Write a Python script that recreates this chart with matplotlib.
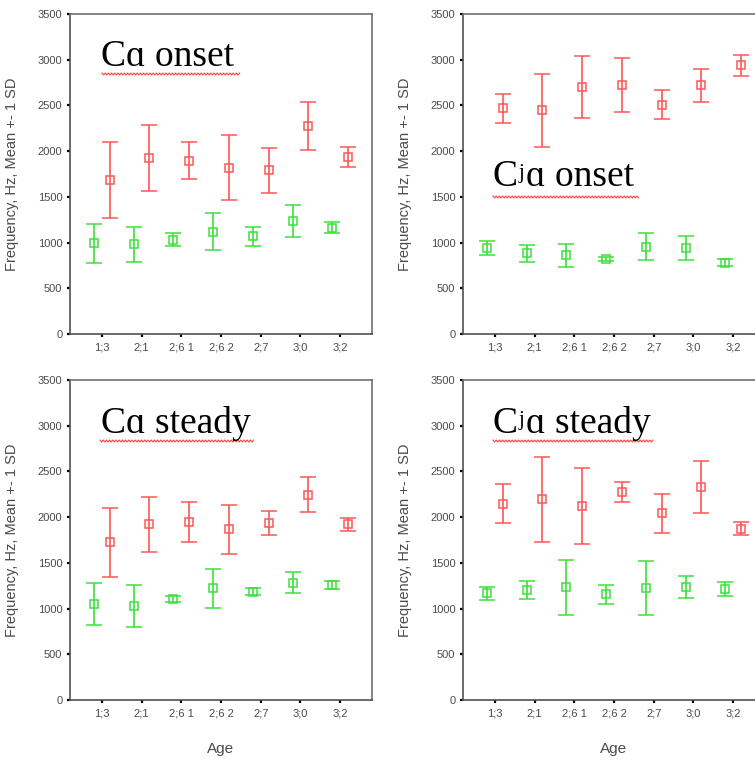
import numpy as np
import matplotlib
matplotlib.use("Agg")
import matplotlib.pyplot as plt
from matplotlib.lines import Line2D

ages = ["1;3", "2;1", "2;6 1", "2;6 2", "2;7", "3;0", "3;2"]

# Cɑ onset
ca_onset_green_mean = [990, 980, 1030, 1120, 1070, 1235, 1160]
ca_onset_green_sd = [210, 190, 70, 200, 105, 175, 60]
ca_onset_red_mean = [1680, 1925, 1895, 1820, 1790, 2275, 1940]
ca_onset_red_sd = [415, 360, 205, 355, 245, 260, 110]

# Cʲɑ onset
cja_onset_green_mean = [940, 885, 860, 815, 955, 940, 780]
cja_onset_green_sd = [73, 93, 122, 22, 150, 135, 35]
cja_onset_red_mean = [2470, 2445, 2700, 2720, 2510, 2720, 2940]
cja_onset_red_sd = [160, 395, 340, 295, 160, 180, 117]

# Cɑ steady
ca_steady_green_mean = [1050, 1030, 1100, 1220, 1185, 1285, 1255]
ca_steady_green_sd = [232, 232, 33, 215, 40, 115, 45]
ca_steady_red_mean = [1725, 1920, 1945, 1865, 1935, 2245, 1920]
ca_steady_red_sd = [380, 305, 220, 265, 130, 190, 73]

# Cʲɑ steady
cja_steady_green_mean = [1165, 1205, 1235, 1155, 1225, 1237, 1215]
cja_steady_green_sd = [75, 98, 300, 106, 290, 124, 75]
cja_steady_red_mean = [2145, 2195, 2120, 2275, 2040, 2330, 1875]
cja_steady_red_sd = [213, 467, 413, 112, 213, 280, 68]

# title parts: (base, superscript, rest)
titles = [("C", "", "ɑ onset"), ("C", "j", "ɑ onset"),
          ("C", "", "ɑ steady"), ("C", "j", "ɑ steady")]

W, H = 755, 760
fig = plt.figure(figsize=(W / 100, H / 100), dpi=100)
fig.patch.set_facecolor("white")
renderer = fig.canvas.get_renderer()

RED = "#ff5656"
GREEN = "#3ce03c"
SANS = ["Liberation Sans", "DejaVu Sans"]
SERIF = ["Liberation Serif", "DejaVu Serif"]
TXT = "#4a4a4a"


def px_axes(left, top, right, bottom):
    return fig.add_axes([left / W, 1 - bottom / H, (right - left) / W, (bottom - top) / H])


def zigzag(x0, x1, y):
    xs = np.arange(x0, x1 + 0.01, 1.6)
    ys = y + np.where(np.arange(len(xs)) % 2 == 0, -1.0, 1.0)
    fig.add_artist(Line2D(xs / W, 1 - ys / H, transform=fig.transFigure,
                          color="#ff3030", lw=0.8, alpha=0.9))


def title(parts, x0, base):
    main, sup, rest = parts
    t = fig.text(x0 / W, 1 - base / H, main, family=SERIF, fontsize=27, color="black",
                 ha="left", va="baseline")
    x = x0 + t.get_window_extent(renderer).width + 0.5
    if sup:
        s = fig.text(x / W, 1 - (base - 8) / H, sup, family=SERIF, fontsize=15, color="black",
                     ha="left", va="baseline")
        x += s.get_window_extent(renderer).width + 1.5
    fig.text(x / W, 1 - base / H, rest, family=SERIF, fontsize=27, color="black",
             ha="left", va="baseline")


panels = [
    dict(box=(70, 14, 372, 334), data=(ca_onset_green_mean, ca_onset_green_sd, ca_onset_red_mean, ca_onset_red_sd),
         title=titles[0], tpos=(101, 66), ul=(102, 240, 74), age=False),
    dict(box=(463, 14, 765, 334), data=(cja_onset_green_mean, cja_onset_green_sd, cja_onset_red_mean, cja_onset_red_sd),
         title=titles[1], tpos=(493, 186), ul=(493, 640, 197), age=False),
    dict(box=(70, 380, 372, 700), data=(ca_steady_green_mean, ca_steady_green_sd, ca_steady_red_mean, ca_steady_red_sd),
         title=titles[2], tpos=(101, 433), ul=(100, 254, 441), age=True),
    dict(box=(463, 380, 765, 700), data=(cja_steady_green_mean, cja_steady_green_sd, cja_steady_red_mean, cja_steady_red_sd),
         title=titles[3], tpos=(493, 433), ul=(493, 653, 441), age=True),
]

x = np.arange(1, len(ages) + 1)
for p in panels:
    ax = px_axes(*p["box"])
    gm, gs, rm, rs = p["data"]
    for xs, m, s, c in ((x - 0.2, gm, gs, GREEN), (x + 0.2, rm, rs, RED)):
        ax.errorbar(xs, m, yerr=s, fmt="s", mfc="none", mec=c, ms=5.5, mew=1.1,
                    ecolor=c, elinewidth=1.2, capsize=6, capthick=1.2, color=c)
    ax.set_xlim(0.2, 7.8)
    ax.set_ylim(0, 3500)
    ax.set_yticks(range(0, 3501, 500))
    ax.set_xticks(x)
    ax.set_xticklabels(ages)
    for lab in ax.get_xticklabels() + ax.get_yticklabels():
        lab.set_family(SANS)
        lab.set_fontsize(8)
        lab.set_color(TXT)
    ax.tick_params(axis="both", direction="out", length=2.5, width=1.6, color="black", pad=3)
    ax.tick_params(axis="x", pad=3.5)
    for side in ("left", "bottom"):
        ax.spines[side].set_color("#505050")
        ax.spines[side].set_linewidth(1.2)
    for side in ("top", "right"):
        ax.spines[side].set_color("#707070")
        ax.spines[side].set_linewidth(1.2)
    ax.set_ylabel("Frequency, Hz, Mean +- 1 SD", family=SANS, fontsize=10.5, color=TXT)
    ax.yaxis.set_label_coords(-0.17, 0.5)
    if p["age"]:
        ax.set_xlabel("Age", family=SANS, fontsize=11, color=TXT)
        ax.xaxis.set_label_coords(0.497, -0.13)
    title(p["title"], *p["tpos"])
    zigzag(*p["ul"])

fig.savefig("out.png", dpi=100, facecolor="white")
